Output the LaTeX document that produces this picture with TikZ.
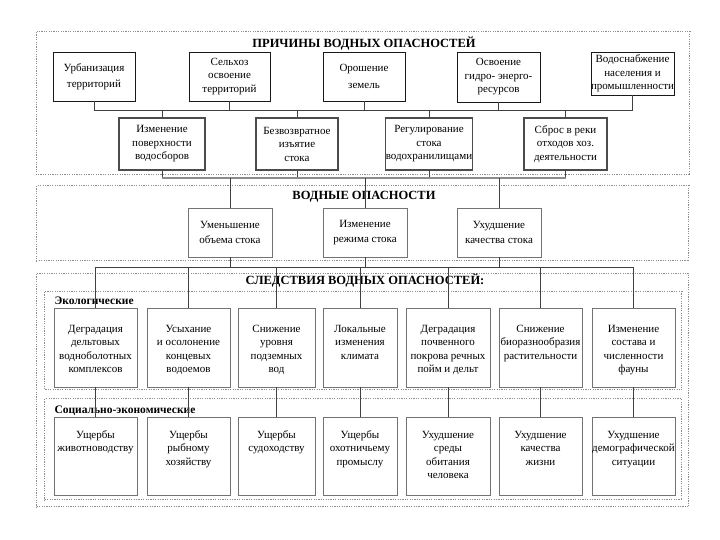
\documentclass[tikz,border=0pt]{standalone}
\usepackage{fontspec}
\setmainfont{Liberation Serif}
\newcommand{\pbx}[4]{\parbox[c][#2pt][t]{#1pt}{\centering\rule{0pt}{#3pt}#4}}
\begin{document}
\begin{tikzpicture}[x=1pt,y=-1pt,
  frame/.style={draw=black!45,line width=0.7pt,dash pattern=on 1.2pt off 1.2pt,double=white,double distance=0.9pt},
  txt/.style={font=\fontsize{11}{13.5}\selectfont},
  wide/.style={font=\fontsize{11}{16.5}\selectfont},
  ttl/.style={font=\fontsize{12.5}{14}\selectfont\bfseries},
  sub/.style={font=\fontsize{11.5}{14}\selectfont\bfseries,anchor=west},
  tbox/.style={txt,draw=black!90,line width=0.9pt,fill=white,align=center,inner sep=0pt,minimum height=49pt},
  sbox/.style={txt,draw=black!70,line width=1.8pt,fill=white,align=center,inner sep=0pt,minimum height=52pt},
  mbox/.style={font=\fontsize{11}{15}\selectfont,draw=black!55,line width=0.8pt,fill=white,align=center,inner sep=0pt,minimum width=84pt,minimum height=49pt},
  ebox/.style={txt,draw=black!55,line width=0.8pt,fill=white,inner sep=0pt},
  conn/.style={draw=black!75,line width=0.7pt},
  gbar/.style={draw=black!45,line width=2.6pt}]
\useasboundingbox (0,0) rectangle (720,540);
% frames
\draw[frame] (37,32) rectangle (690,175);
\draw[frame] (37,186) rectangle (689,261);
\draw[frame] (37,274) rectangle (689,507);
\draw[frame] (45,292) rectangle (682,390);
\draw[frame] (45,399) rectangle (682,500);
% titles
\node[ttl] (tt1) at (364,44) {ПРИЧИНЫ ВОДНЫХ ОПАСНОСТЕЙ};
\node[ttl] (tt2) at (364,197) {ВОДНЫЕ ОПАСНОСТИ};
\node[ttl] (tt3) at (365,281) {СЛЕДСТВИЯ ВОДНЫХ ОПАСНОСТЕЙ:};
\node[sub] (lb1) at (51,301) {Экологические};
\node[sub] (lb2) at (51,411) {Социально-экономические};
% top row
\node[tbox,wide,minimum width=82pt] (t1) at (94,76.5) {Урбанизация\\территорий};
\node[tbox,minimum width=81pt] (t2) at (229.5,76.5) {Сельхоз\\освоение\\территорий};
\node[tbox,wide,minimum width=82pt] (t3) at (364,76.5) {Орошение\\земель};
\node[tbox,minimum width=83pt,minimum height=50pt] (t4) at (498.5,77) {Освоение\\гидро- энерго-\\ресурсов};
\node[tbox,minimum width=81pt,minimum height=43pt] (t5) at (632.5,73.5) {Водоснабжение\\населения и\\промышленности};
% second row
\node[sbox,minimum width=86pt] (s1) at (162,144) {Изменение\\поверхности\\водосборов};
\node[sbox,minimum width=82pt] (s2) at (297,144) {Безвозвратное\\изъятие\\стока};
\node[sbox,minimum width=87pt] (s3) at (429,144) {Регулирование\\стока\\водохранилищами};
\node[sbox,minimum width=83pt] (s4) at (565.5,144) {Сброс в реки\\отходов хоз.\\деятельности};
% middle
\node[mbox] (m1) at (230,232.5) {Уменьшение\\объема стока};
\node[mbox] (m2) at (365,232.5) {Изменение\\режима стока};
\node[mbox] (m3) at (499,232.5) {Ухудшение\\качества стока};
% ecological
\node[ebox] (e1) at (95.5,347.5) {\pbx{83}{79}{24}{Деградация\\дельтовых\\водноболотных\\комплексов}};
\node[ebox] (e2) at (188.5,347.5) {\pbx{83}{79}{24}{Усыхание\\и осолонение\\концевых\\водоемов}};
\node[ebox] (e3) at (276.5,347.5) {\pbx{77}{79}{24}{Снижение\\уровня\\подземных\\вод}};
\node[ebox] (e4) at (360,347.5) {\pbx{74}{79}{24}{Локальные\\изменения\\климата}};
\node[ebox] (e5) at (448,347.5) {\pbx{84}{79}{24}{Деградация\\почвенного\\покрова речных\\пойм и дельт}};
\node[ebox] (e6) at (540.5,347.5) {\pbx{83}{79}{24}{Снижение\\биоразнообразия\\растительности}};
\node[ebox] (e7) at (633.5,347.5) {\pbx{83}{79}{24}{Изменение\\состава и\\численности\\фауны}};
% socio-economic
\node[ebox] (o1) at (95.5,456) {\pbx{83}{78}{21}{Ущербы\\животноводству}};
\node[ebox] (o2) at (188.5,456) {\pbx{83}{78}{21}{Ущербы\\рыбному\\хозяйству}};
\node[ebox] (o3) at (276.5,456) {\pbx{77}{78}{21}{Ущербы\\судоходству}};
\node[ebox] (o4) at (360,456) {\pbx{74}{78}{21}{Ущербы\\охотничьему\\промыслу}};
\node[ebox] (o5) at (448,456) {\pbx{84}{78}{21}{Ухудшение\\среды\\обитания\\человека}};
\node[ebox] (o6) at (540.5,456) {\pbx{83}{78}{21}{Ухудшение\\качества\\жизни}};
\node[ebox] (o7) at (633.5,456) {\pbx{83}{78}{21}{Ухудшение\\демографической\\ситуации}};
% connectors
\coordinate (ya) at (0,110);
\coordinate (yb) at (0,178);
\coordinate (yc) at (0,267);
\draw[conn] (t1.south |- ya) -- (t5.south |- ya);
\foreach \n in {t1,t2,t3,t4,t5} \draw[conn] (\n.south) -- (\n.south |- ya);
\foreach \n in {s1,s2,s3,s4} \draw[conn] (\n.north) -- (\n.north |- ya);
\foreach \n in {s1,s2,s3,s4} \draw[conn] (\n.south) -- (\n.south |- yb);
\draw[gbar] (s1.south |- yb) -- (s4.south |- yb);
\foreach \n in {m1,m2,m3} \draw[conn] (\n.north) -- (\n.north |- yb);
\foreach \n in {m1,m2,m3} \draw[conn] (\n.south) -- (\n.south |- yc);
\draw[conn] (e1.north |- yc) -- (e7.north |- yc);
\foreach \n in {e1,e2,e3,e4,e5,e6,e7} \draw[conn] (\n.north) -- (\n.north |- yc);
\foreach \a/\b in {e1/o1,e2/o2,e3/o3,e4/o4,e5/o5,e6/o6,e7/o7} \draw[conn] (\a.south) -- (\b.north);
\end{tikzpicture}
\end{document}
